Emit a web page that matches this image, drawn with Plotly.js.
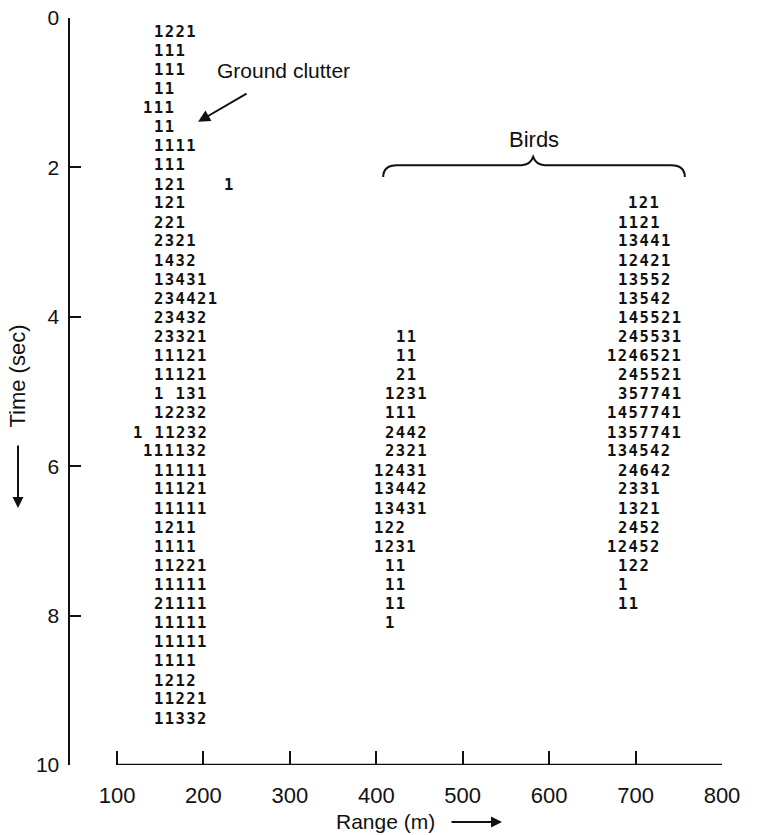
<!DOCTYPE html>
<html>
<head>
<meta charset="utf-8">
<script src="https://cdn.plot.ly/plotly-3.0.1.min.js"></script>
<style>
html,body{margin:0;padding:0;background:#fff;}
#chart{width:757px;height:835px;}
text.annotation-text[style*="DejaVu Sans Mono"]{letter-spacing:1.4px;}
</style>
</head>
<body>
<div id="chart"></div>
<script>
// ---- Data ----
// Ground clutter column: time of each radar scan row (s), start range (m), count string
const clutterTimes = [0.19, 0.44, 0.70, 0.95, 1.21, 1.46, 1.72, 1.97, 2.23, 2.48, 2.74, 2.99, 3.25, 3.51, 3.76, 4.02, 4.27, 4.53, 4.78, 5.04, 5.29, 5.55, 5.80, 6.06, 6.31, 6.57, 6.83, 7.08, 7.34, 7.59, 7.85, 8.10, 8.36, 8.61, 8.87, 9.12, 9.38];
const clutterStart = [143, 143, 143, 143, 130.6, 143, 143, 143, 143, 143, 143, 143, 143, 143, 143, 143, 143, 143, 143, 143, 143, 118.2, 130.6, 143, 143, 143, 143, 143, 143, 143, 143, 143, 143, 143, 143, 143, 143];
const clutterCounts = ["1221", "111", "111", "11", "111", "11", "1111", "111", "121", "121", "221", "2321", "1432", "13431", "234421", "23432", "23321", "11121", "11121", "1 131", "12232", "1 11232", "111132", "11111", "11121", "11111", "1211", "1111", "11221", "11111", "21111", "11111", "11111", "1111", "1212", "11221", "11332"];

// Isolated echo
const strayTimes = [2.23];
const strayStart = [223.8];
const strayCounts = ["1"];

// Birds, nearer group
const nearTimes = [4.27, 4.53, 4.78, 5.04, 5.29, 5.55, 5.80, 6.06, 6.31, 6.57, 6.83, 7.08, 7.34, 7.59, 7.85, 8.10];
const nearStart = [422.3, 422.3, 422.3, 409.9, 409.9, 409.9, 409.9, 397.5, 397.5, 397.5, 397.5, 397.5, 409.9, 409.9, 409.9, 409.9];
const nearCounts = ["11", "11", "21", "1231", "111", "2442", "2321", "12431", "13442", "13431", "122", "1231", "11", "11", "11", "1"];

// Birds, farther group
const farTimes = [2.48, 2.74, 2.99, 3.25, 3.51, 3.76, 4.02, 4.27, 4.53, 4.78, 5.04, 5.29, 5.55, 5.80, 6.06, 6.31, 6.57, 6.83, 7.08, 7.34, 7.59, 7.85];
const farStart = [691.8, 679.4, 679.4, 679.4, 679.4, 679.4, 679.4, 679.4, 667, 679.4, 679.4, 667, 667, 667, 679.4, 679.4, 679.4, 679.4, 667, 679.4, 679.4, 679.4];
const farCounts = ["121", "1121", "13441", "12421", "13552", "13542", "145521", "245531", "1246521", "245521", "357741", "1457741", "1357741", "134542", "24642", "2331", "1321", "2452", "12452", "122", "1", "11"];

// Axes
const rangeTicks = [100, 200, 300, 400, 500, 600, 700, 800];
const rangeTickLabels = ["100", "200", "300", "400", "500", "600", "700", "800"];
const timeTicks = [0, 2, 4, 6, 8, 10];
const timeTickLabels = ["0", "2", "4", "6", "8", "10"];

// ---- Build figure ----
const digitFont = {family: "DejaVu Sans Mono, monospace", size: 15.5, color: "#111", weight: "bold"};
const labelFamily = "Liberation Sans, Arial, sans-serif";

function rows(times, starts, counts) {
  return times.map((t, i) => ({
    x: starts[i], y: t, xref: "x", yref: "y",
    text: counts[i].replace(/ /g, "\u00A0"),
    showarrow: false, xanchor: "left", yanchor: "middle",
    font: digitFont, borderpad: 0, borderwidth: 0
  }));
}

const annotations = [].concat(
  rows(clutterTimes, clutterStart, clutterCounts),
  rows(strayTimes, strayStart, strayCounts),
  rows(nearTimes, nearStart, nearCounts),
  rows(farTimes, farStart, farCounts)
);

// Labels
annotations.push({x: 213, y: 0.70, xref: "x", yref: "y", text: "Ground clutter", showarrow: false,
  xanchor: "left", yanchor: "middle", font: {family: labelFamily, size: 21, color: "#111"}});
annotations.push({x: 193.8, y: 1.39, xref: "x", yref: "y", ax: 251.6, ay: 1.0, axref: "x", ayref: "y",
  text: "", showarrow: true, arrowhead: 2, arrowsize: 1.2, arrowwidth: 2, arrowcolor: "#111"});
annotations.push({x: 582.6, y: 1.62, xref: "x", yref: "y", text: "Birds", showarrow: false,
  xanchor: "center", yanchor: "middle", font: {family: labelFamily, size: 22, color: "#111"}});

// Axis titles with arrows
annotations.push({x: 0, y: 0.52, xref: "paper", yref: "paper", xshift: -52, text: "Time (sec)",
  textangle: -90, showarrow: false, xanchor: "center", yanchor: "middle",
  font: {family: labelFamily, size: 22, color: "#111"}});
annotations.push({x: 0, y: (765 - 508) / 747, xref: "paper", yref: "paper", xshift: -52, ax: 0, ay: -64,
  text: "", showarrow: true, arrowhead: 2, arrowsize: 1.1, arrowwidth: 2, arrowcolor: "#111"});
annotations.push({x: (385 - 70) / 652, y: 0, xref: "paper", yref: "paper", yshift: -56, text: "Range (m)",
  showarrow: false, xanchor: "center", yanchor: "middle",
  font: {family: labelFamily, size: 21, color: "#111"}});
annotations.push({x: (502 - 70) / 652, y: 0, xref: "paper", yref: "paper", yshift: -57, ax: -52, ay: 0,
  text: "", showarrow: true, arrowhead: 2, arrowsize: 1.1, arrowwidth: 2, arrowcolor: "#111"});

const shapes = [
  // detached range axis line
  {type: "line", xref: "x", yref: "y", x0: rangeTicks[0], x1: rangeTicks[rangeTicks.length - 1], y0: 10, y1: 10,
   line: {color: "#111", width: 2.5}},
  // brace over the birds
  {type: "path", xref: "x", yref: "y",
   path: "M 408,2.13 Q 408,1.97 424,1.97 L 568,1.97 Q 578,1.97 581.5,1.86 Q 585,1.97 595,1.97 L 741,1.97 Q 757,1.97 757,2.13",
   line: {color: "#111", width: 2}}
];

const layout = {
  width: 757, height: 835,
  margin: {l: 70, r: 35, t: 18, b: 70},
  paper_bgcolor: "#fff", plot_bgcolor: "#fff",
  showlegend: false,
  xaxis: {
    range: [45.6, 800], showgrid: false, zeroline: false, showline: false,
    ticks: "inside", ticklen: 14, tickwidth: 2, tickcolor: "#111",
    tickvals: rangeTicks, ticktext: rangeTickLabels,
    tickfont: {family: labelFamily, size: 22, color: "#111"},
    ticklabelstandoff: 15, fixedrange: true
  },
  yaxis: {
    range: [10, 0], showgrid: false, zeroline: false, showline: true, linewidth: 2.5, linecolor: "#111",
    ticks: "inside", ticklen: 11, tickwidth: 2, tickcolor: "#111",
    tickvals: timeTicks, ticktext: timeTickLabels,
    tickfont: {family: labelFamily, size: 21, color: "#111"},
    ticklabelstandoff: 4, fixedrange: true
  },
  annotations: annotations,
  shapes: shapes
};

Plotly.newPlot("chart", [{type: "scatter", mode: "markers", x: [], y: [], hoverinfo: "skip"}], layout,
  {staticPlot: true, displayModeBar: false});
</script>
</body>
</html>
